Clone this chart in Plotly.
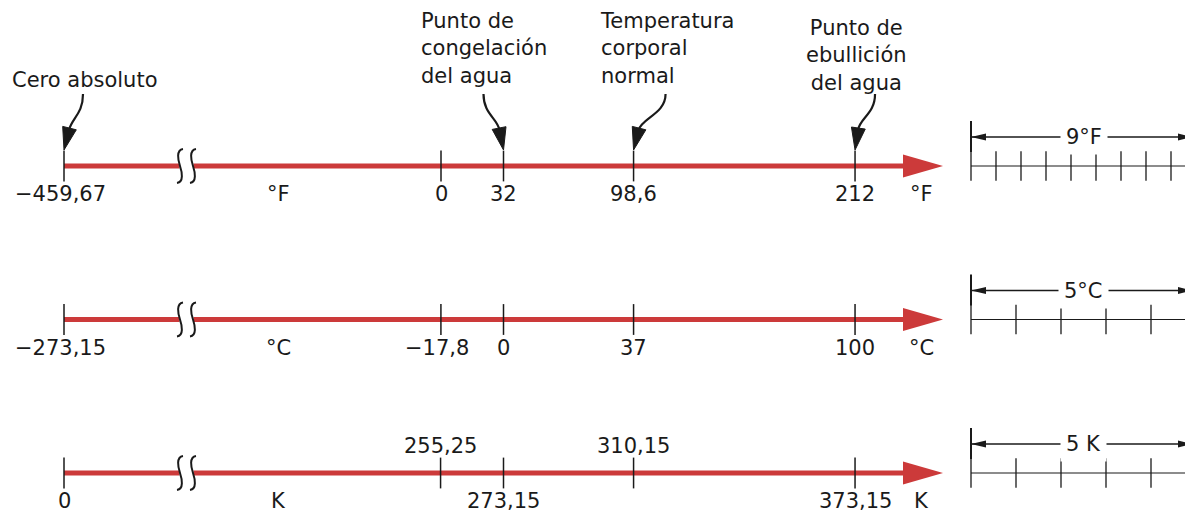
import math
import plotly.graph_objects as go

# ---------------- data ----------------
scale_units = ["°F", "°C", "K"]
fahrenheit_values = [-459.67, 0, 32, 98.6, 212]
fahrenheit_labels = ["−459,67", "0", "32", "98,6", "212"]
celsius_values = [-273.15, -17.8, 0, 37, 100]
celsius_labels = ["−273,15", "−17,8", "0", "37", "100"]
kelvin_values = [0, 255.25, 273.15, 310.15, 373.15]
kelvin_labels = ["0", "255,25", "273,15", "310,15", "373,15"]
kelvin_label_above = [False, True, False, True, False]
landmark_names = ["Cero absoluto", "Punto de<br>congelación<br>del agua",
                  "Temperatura<br>corporal<br>normal", "Punto de<br>ebullición<br>del agua"]
landmark_fahrenheit = [-459.67, 32, 98.6, 212]
inset_labels = ["9°F", "5°C", "5 K"]
inset_divisions = [9, 5, 5]
inset_degree_in_F = [1.0, 1.8, 1.8]

# ---------------- layout / style ----------------
W, H = 1193, 514          # browser window
PAGE_OFFSET = 8           # default body margin of the html page
FIG_W, FIG_H = W - PAGE_OFFSET, H - PAGE_OFFSET
RED = "#cc3a3a"
INK = "#1a1a1a"
FONT = dict(family="DejaVu Sans", size=21, color=INK)

PX_PER_F = 1.953      # main axes scale (screen pixels per °F)
ZERO_F_PX = 441       # screen pixel of 0 °F
ROW0_PX, ROW_GAP_PX = 166, 153.5
INSET_X0_PX, INSET_PX_PER_F = 971, 25


def px_to_F(px):
    return (px - ZERO_F_PX) / PX_PER_F


AXIS_START_F = px_to_F(64)     # where absolute zero sits after the axis break
BREAK_F = px_to_F(186.5)
LINE_END_F = px_to_F(903)
UNIT_MID_F = px_to_F(278)
UNIT_END_F = px_to_F(921)


def to_F(v, unit):
    if unit == "°F":
        return v
    if unit == "°C":
        return v * 9 / 5 + 32
    return (v - 273.15) * 9 / 5 + 32


def display_x(f):
    return AXIS_START_F if f < BREAK_F else f


rows = [0, 1, 2]
row_values = [fahrenheit_values, celsius_values, kelvin_values]
row_labels = [fahrenheit_labels, celsius_labels, kelvin_labels]
row_above = [[False] * 5, [False] * 5, kelvin_label_above]

fig = go.Figure()
shapes = []
annotations = []

for r, unit, vals, labs, above in zip(rows, scale_units, row_values, row_labels, row_above):
    xs = [display_x(to_F(v, unit)) for v in vals]
    # red axis line
    fig.add_trace(go.Scatter(x=[AXIS_START_F, LINE_END_F], y=[r, r], mode="lines",
                             line=dict(color=RED, width=5), hoverinfo="skip"))
    # ticks
    fig.add_trace(go.Scatter(x=xs, y=[r] * len(xs), mode="markers",
                             marker=dict(symbol="line-ns", size=22,
                                         line=dict(width=1.5, color=INK)),
                             hoverinfo="skip"))
    # arrow head
    shapes.append(dict(type="path", xref="x", yref="y", xsizemode="pixel", ysizemode="pixel",
                       xanchor=LINE_END_F, yanchor=r,
                       path="M 0,11.5 L 40,0 L 0,-11.5 Z",
                       fillcolor=RED, line=dict(width=0)))
    # axis break
    shapes.append(dict(type="rect", xref="x", yref="y", xsizemode="pixel", ysizemode="pixel",
                       xanchor=BREAK_F, yanchor=r, x0=-7, x1=7, y0=-4, y1=4,
                       fillcolor="white", line=dict(width=0)))
    for dx in (-6.5, 6.5):
        shapes.append(dict(type="path", xref="x", yref="y", xsizemode="pixel", ysizemode="pixel",
                           xanchor=BREAK_F, yanchor=r,
                           path=(f"M {dx+3},17 C {dx-4},16 {dx-2},6 {dx},0 "
                                 f"C {dx+2},-6 {dx+4},-16 {dx-3},-17"),
                           line=dict(color=INK, width=2)))
    # value labels
    for x, lab, up in zip(xs, labs, above):
        shift_x = -4 if lab.startswith("−") else 0
        annotations.append(dict(x=x, y=r, xref="x", yref="y", text=lab, showarrow=False,
                                xanchor="center", yanchor="middle",
                                xshift=shift_x, yshift=27 if up else -28, font=FONT))
    # unit labels
    for ux in (UNIT_MID_F, UNIT_END_F):
        annotations.append(dict(x=ux, y=r, xref="x", yref="y", text=unit, showarrow=False,
                                xanchor="center", yanchor="middle", yshift=-28, font=FONT))

# ---------------- landmark call-outs ----------------
lm_text_anchor = ["center", "left", "left", "center"]
lm_text_xshift = [21, -85, -36, 1]
lm_text_yshift = [86, 118, 118, 111]
lm_curve_start = [19, -20, 32, 20]
lm_curve_end = [5, -4, 5, 3]


def curved_arrow(xpos, sx, bx, sy=72, by=36, ty=16, half=7):
    out = [dict(type="path", xref="x", yref="y", xsizemode="pixel", ysizemode="pixel",
                xanchor=xpos, yanchor=0,
                path=f"M {sx},{sy} C {sx},{sy-20} {bx*1.6:.1f},{by+12} {bx},{by}",
                line=dict(color=INK, width=2.2))]
    dx, dy = 0 - bx, ty - by
    n = math.hypot(dx, dy)
    px, py = -dy / n * half, dx / n * half
    bx2, by2 = bx - dx / n * 2, by - dy / n * 2
    out.append(dict(type="path", xref="x", yref="y", xsizemode="pixel", ysizemode="pixel",
                    xanchor=xpos, yanchor=0,
                    path=(f"M {bx2+px:.1f},{by2+py:.1f} L 0,{ty} "
                          f"L {bx2-px:.1f},{by2-py:.1f} Z"),
                    fillcolor=INK, line=dict(color=INK, width=1)))
    return out


for name, f, anc, xs_, ys_, sx, bx in zip(landmark_names, landmark_fahrenheit, lm_text_anchor,
                                          lm_text_xshift, lm_text_yshift,
                                          lm_curve_start, lm_curve_end):
    xpos = display_x(f)
    annotations.append(dict(x=xpos, y=0, xref="x", yref="y", text=name, showarrow=False,
                            xanchor=anc, yanchor="middle", align=anc,
                            xshift=xs_, yshift=ys_, font=FONT))
    shapes.extend(curved_arrow(xpos, sx, bx))

# ---------------- insets (unit size comparison) ----------------
for r, lab, ndiv, deg in zip(rows, inset_labels, inset_divisions, inset_degree_in_F):
    span = ndiv * deg
    fig.add_trace(go.Scatter(x=[0, span + 1], y=[r, r], xaxis="x2", yaxis="y", mode="lines",
                             line=dict(color=INK, width=1.2), hoverinfo="skip"))
    fig.add_trace(go.Scatter(x=[k * deg for k in range(ndiv + 1)], y=[r] * (ndiv + 1),
                             xaxis="x2", yaxis="y", mode="markers",
                             marker=dict(symbol="line-ns", size=21,
                                         line=dict(width=1.3, color=INK)),
                             hoverinfo="skip"))
    shapes.append(dict(type="line", xref="x2", yref="y", ysizemode="pixel", yanchor=r,
                       x0=0, x1=0, y0=14, y1=45, line=dict(color=INK, width=2)))
    shapes.append(dict(type="line", xref="x2", yref="y", ysizemode="pixel", yanchor=r,
                       x0=0, x1=span, y0=29, y1=29, line=dict(color=INK, width=1.3)))
    shapes.append(dict(type="path", xref="x2", yref="y", xsizemode="pixel", ysizemode="pixel",
                       xanchor=0, yanchor=r, path="M 0,29 L 15,32.5 L 15,25.5 Z",
                       fillcolor=INK, line=dict(width=0)))
    shapes.append(dict(type="path", xref="x2", yref="y", xsizemode="pixel", ysizemode="pixel",
                       xanchor=span, yanchor=r, path="M -3,29 L -18,32.5 L -18,25.5 Z",
                       fillcolor=INK, line=dict(width=0)))
    annotations.append(dict(x=span / 2, y=r, xref="x2", yref="y", text=lab, showarrow=False,
                            xanchor="center", yanchor="middle", yshift=29,
                            bgcolor="white", borderpad=5, font=FONT))

# axis ranges expressed in screen pixels, the figure starting PAGE_OFFSET px in
fig.update_layout(
    width=FIG_W, height=FIG_H,
    margin=dict(l=0, r=0, t=0, b=0, pad=0),
    paper_bgcolor="white", plot_bgcolor="white",
    showlegend=False,
    xaxis=dict(range=[px_to_F(PAGE_OFFSET), px_to_F(W)], visible=False, fixedrange=True),
    xaxis2=dict(range=[(PAGE_OFFSET - INSET_X0_PX) / INSET_PX_PER_F,
                       (W - INSET_X0_PX) / INSET_PX_PER_F],
                overlaying="x", visible=False, fixedrange=True),
    yaxis=dict(range=[(H - ROW0_PX) / ROW_GAP_PX, (PAGE_OFFSET - ROW0_PX) / ROW_GAP_PX],
               visible=False, fixedrange=True),
    shapes=shapes,
    annotations=annotations,
)

fig.write_html("out.html")
